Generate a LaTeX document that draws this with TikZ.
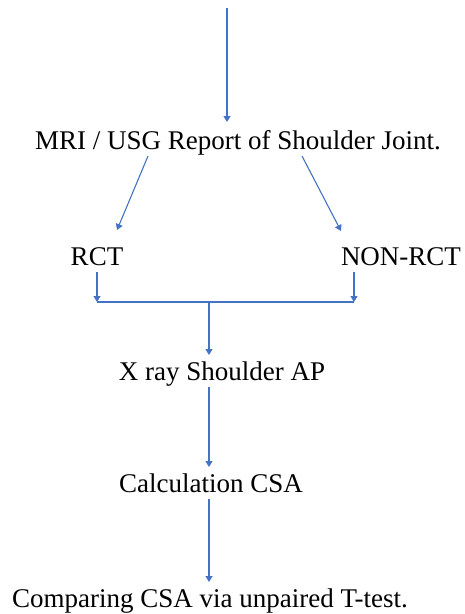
\documentclass[tikz,border=0pt]{standalone}
\usepackage{fontspec}
\setmainfont{Liberation Serif}
\newfontfamily\stagefont{Liberation Serif}
\usetikzlibrary{arrows.meta}
\definecolor{flowblue}{HTML}{4472C4}

\begin{document}
\begin{tikzpicture}[x=1pt, y=-1pt]
\tikzstyle{stage}=[anchor=base, inner sep=0pt, outer ysep=7pt, text height=18pt, text depth=0pt, font=\stagefont\fontsize{27pt}{32pt}\selectfont]
\tikzstyle{flow}=[draw=flowblue, line width=1.1pt, -{Triangle[width=7pt,length=6pt]}]
\useasboundingbox (0,0) rectangle (464,614);

% Report
\coordinate (start) at (227, 8);
\node at (238, 149) [stage, outer ysep=9pt] (report) {MRI / USG Report of Shoulder Joint.};

% Groups
\node at (97, 265) [stage] (rct) {RCT};
\node at (401, 265) [stage] (nonrct) {NON-RCT};
\coordinate (nondn) at ([xshift=-47pt]nonrct.south);
\coordinate (join) at (209, 302);

% Steps
\node at (222, 380) [stage] (xray) {X ray Shoulder AP};
\node at (211, 492) [stage] (calc) {Calculation CSA};
\node at (210, 607) [stage] (compare) {Comparing CSA via unpaired T-test.};

% Start -> Report
\draw [flow] (start) -- (start |- report.north);

% Report -> Groups
\draw [flow] ([xshift=-90pt,yshift=2pt]report.south) to ([xshift=20pt,yshift=10pt]rct.north);
\draw [flow] ([xshift=64pt,yshift=2pt]report.south) to ([xshift=-60pt,yshift=9pt]nonrct.north);

% Groups -> X ray
\draw [flow] (rct.south) -- (rct.south |- join);
\draw [flow] (nondn) -- (nondn |- join);
\draw [draw=flowblue, line width=1.6pt] (rct.south |- join) -- (nondn |- join);
\draw [flow] (join) -- (join |- xray.north);

% X ray -> Calculation -> Comparing
\draw [flow] (join |- xray.south) -- (join |- calc.north);
\draw [flow] (join |- calc.south) -- (join |- compare.north);
\end{tikzpicture}
\end{document}
